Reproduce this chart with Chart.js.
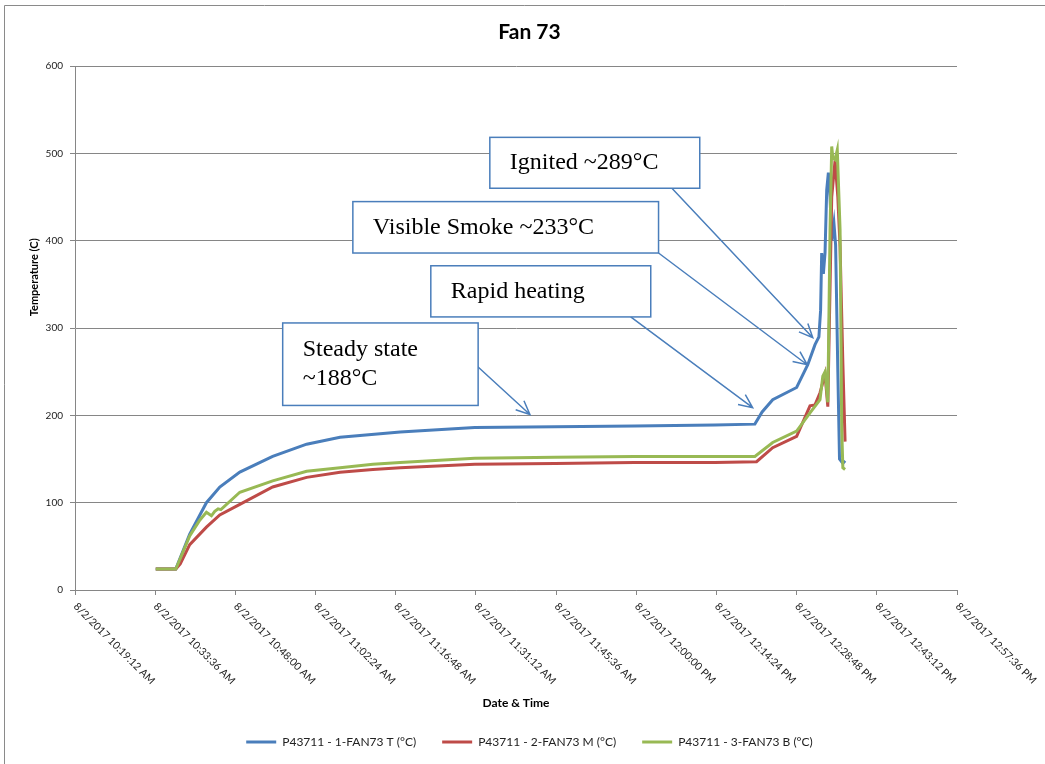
<!DOCTYPE html>
<html>
<head>
<meta charset="utf-8">
<title>Fan 73</title>
<script src="https://cdn.jsdelivr.net/npm/chart.js@4.4.1/dist/chart.umd.min.js"></script>
<style>
  html, body { margin: 0; padding: 0; background: #fff; }
  #wrap { width: 1045px; height: 764px; position: relative; }
</style>
</head>
<body>
<div id="wrap"><canvas id="fanChart"></canvas></div>
<script>
// x values are minutes after 8/2/2017 10:19:12 AM
const tickValues = [0, 14.4, 28.8, 43.2, 57.6, 72, 86.4, 100.8, 115.2, 129.6, 144, 158.4];
const tickLabels = [
    '8/2/2017 10:19:12 AM', '8/2/2017 10:33:36 AM', '8/2/2017 10:48:00 AM', '8/2/2017 11:02:24 AM',
    '8/2/2017 11:16:48 AM', '8/2/2017 11:31:12 AM', '8/2/2017 11:45:36 AM', '8/2/2017 12:00:00 PM',
    '8/2/2017 12:14:24 PM', '8/2/2017 12:28:48 PM', '8/2/2017 12:43:12 PM', '8/2/2017 12:57:36 PM'
];

const seriesNames = ['P43711 - 1-FAN73 T (°C)', 'P43711 - 2-FAN73 M (°C)', 'P43711 - 3-FAN73 B (°C)'];
const seriesColors = ['#4a7ebb', '#be4b48', '#98b954'];

const topTime = [14.5, 18.1, 20.6, 23.6, 26.0, 29.6, 35.5, 41.6, 47.6, 58.4, 71.8, 86.2, 100.5, 114.9, 122.1,
    123.4, 125.3, 129.6, 131.6, 132.9, 133.6, 133.9, 134.1, 134.4, 134.7, 135.0, 135.3, 135.6, 135.9,
    136.3, 136.6, 137.0, 137.3, 137.9, 138.3];
const topTemp = [24, 24, 64, 100, 118, 135, 153, 167, 175, 181, 186, 187, 188, 189, 190,
    204, 218, 232, 258, 281, 290, 320, 386, 362, 386, 458, 478, 450, 400,
    420, 395, 250, 150, 145, 148];

const midTime = [14.5, 18.1, 18.9, 20.6, 23.6, 26.0, 29.6, 35.5, 41.6, 47.6, 53.5, 58.4, 71.8, 86.2, 100.5,
    114.9, 122.4, 125.3, 129.6, 132.0, 132.9, 133.8, 134.7, 135.2, 135.9, 136.5, 137.0, 137.4, 137.9, 138.3];
const midTemp = [24, 24, 30, 52, 72, 86, 98, 118, 129, 135, 138, 140, 144, 145, 146,
    146, 147, 163, 176, 211, 212, 226, 247, 210, 450, 492, 450, 393, 260, 170];

const botTime = [14.5, 18.1, 20.6, 22.4, 23.6, 24.5, 25.1, 25.7, 26.2, 29.6, 35.5, 41.6, 47.6, 53.5, 58.4,
    71.8, 86.2, 100.5, 114.9, 122.1, 125.3, 129.6, 132.0, 133.8, 134.3, 134.7, 135.2, 135.6, 135.9,
    136.1, 136.5, 136.9, 137.4, 137.7, 137.9, 138.3];
const botTemp = [24, 24, 62, 80, 89, 85, 90, 93, 92, 112, 125, 136, 140, 144, 146,
    151, 152, 153, 153, 153, 169, 182, 203, 218, 245, 250, 215, 413, 508,
    495, 493, 504, 413, 184, 140, 138];

// callouts: box corners and arrow tail/tip in data units (minutes, °C)
const callouts = [
    { lines: ['Ignited ~289°C'], box: [74.5, 518.5, 112.2, 460.2], tail: [107.2, 460.2], tip: [132.5, 289] },
    { lines: ['Visible Smoke ~233°C'], box: [49.9, 444.9, 104.8, 386], tail: [104.8, 386], tip: [131.5, 258] },
    { lines: ['Rapid heating'], box: [63.9, 371.4, 103.4, 312.8], tail: [99.8, 312.8], tip: [121.7, 208.8] },
    { lines: ['Steady state', '~188°C'], box: [37.3, 305.9, 72.4, 211.4], tail: [72.1, 257.1], tip: [81.7, 201] }
];

function toPoints(times, temps) {
    return times.map((t, i) => ({ x: t, y: temps[i] }));
}

const sansFont = 'Lato, "Open Sans", sans-serif';
const gridGrey = '#868686';

const fanExtras = {
    id: 'fanExtras',
    beforeDraw(chart) {
        const c = chart.ctx;
        c.save();
        c.strokeStyle = '#8a8a8a';
        c.lineWidth = 1;
        c.beginPath();
        c.moveTo(4.5, 764);
        c.lineTo(4.5, 5.5);
        c.lineTo(1045, 5.5);
        c.stroke();
        c.restore();
    },
    afterDraw(chart) {
        const c = chart.ctx;
        const xs = chart.scales.x;
        const area = chart.chartArea;

        // rotated date labels, reading down to the right from each tick
        c.save();
        c.fillStyle = '#222';
        c.font = '10.5px ' + sansFont;
        c.textAlign = 'left';
        c.textBaseline = 'top';
        tickValues.forEach((v, i) => {
            const px = xs.getPixelForValue(v);
            c.save();
            c.translate(px + 4, area.bottom + 11);
            c.rotate(Math.PI / 4);
            c.fillText(tickLabels[i], 0, 0);
            c.restore();
        });
        c.restore();

        // y axis title
        c.save();
        c.fillStyle = '#000';
        c.font = 'bold 11px ' + sansFont;
        c.textAlign = 'center';
        c.textBaseline = 'middle';
        c.translate(34, area.top + (area.bottom - area.top) * 0.403);
        c.rotate(-Math.PI / 2);
        c.fillText('Temperature (C)', 0, 0);
        c.restore();
    },
    afterDatasetsDraw(chart) {
        const c = chart.ctx;
        const xs = chart.scales.x;
        const ys = chart.scales.y;
        c.save();
        callouts.forEach(co => {
            const x0 = xs.getPixelForValue(co.box[0]);
            const y0 = ys.getPixelForValue(co.box[1]);
            const x1 = xs.getPixelForValue(co.box[2]);
            const y1 = ys.getPixelForValue(co.box[3]);
            const tx = xs.getPixelForValue(co.tail[0]);
            const ty = ys.getPixelForValue(co.tail[1]);
            const hx = xs.getPixelForValue(co.tip[0]);
            const hy = ys.getPixelForValue(co.tip[1]);

            c.strokeStyle = '#4a7ebb';
            c.lineWidth = 1.5;
            c.beginPath();
            c.moveTo(tx, ty);
            c.lineTo(hx, hy);
            const ang = Math.atan2(hy - ty, hx - tx);
            const len = 15, spread = 0.42;
            c.moveTo(hx - len * Math.cos(ang - spread), hy - len * Math.sin(ang - spread));
            c.lineTo(hx, hy);
            c.lineTo(hx - len * Math.cos(ang + spread), hy - len * Math.sin(ang + spread));
            c.stroke();

            c.fillStyle = '#fff';
            c.fillRect(x0, y0, x1 - x0, y1 - y0);
            c.strokeRect(x0, y0, x1 - x0, y1 - y0);

            c.fillStyle = '#000';
            c.font = '24px "Liberation Serif", "Times New Roman", serif';
            c.textAlign = 'left';
            c.textBaseline = 'middle';
            const mid = (y0 + y1) / 2;
            const step = 29;
            co.lines.forEach((ln, i) => {
                c.fillText(ln, x0 + 20, mid + (i - (co.lines.length - 1) / 2) * step);
            });
        });
        c.restore();
    }
};

const ctx = document.getElementById('fanChart').getContext('2d');
const fanChart = new Chart(ctx, {
    type: 'line',
    data: {
        datasets: [
            { label: seriesNames[0], data: toPoints(topTime, topTemp), borderColor: seriesColors[0], backgroundColor: seriesColors[0], order: 3 },
            { label: seriesNames[1], data: toPoints(midTime, midTemp), borderColor: seriesColors[1], backgroundColor: seriesColors[1], order: 2 },
            { label: seriesNames[2], data: toPoints(botTime, botTemp), borderColor: seriesColors[2], backgroundColor: seriesColors[2], order: 1 }
        ]
    },
    options: {
        responsive: true,
        maintainAspectRatio: false,
        animation: false,
        elements: {
            line: { borderWidth: 3, tension: 0, fill: false },
            point: { radius: 0, hoverRadius: 0, pointStyle: 'line', borderWidth: 3 }
        },
        layout: { padding: { left: 14, right: 0, top: 0, bottom: 6 } },
        scales: {
            x: {
                type: 'linear',
                min: 0,
                max: 158.4,
                afterBuildTicks: scale => { scale.ticks = tickValues.map(v => ({ value: v })); },
                afterFit: scale => { scale.height = 120; },
                ticks: { display: false },
                grid: { drawOnChartArea: false, drawTicks: true, tickLength: 5, color: gridGrey },
                border: { color: gridGrey },
                title: {
                    display: true,
                    text: 'Date & Time',
                    color: '#000',
                    font: { family: sansFont, size: 12, weight: 'bold' },
                    padding: { top: 0, bottom: 0 }
                }
            },
            y: {
                min: 0,
                max: 600,
                afterFit: scale => { scale.width = 61; },
                ticks: { stepSize: 100, color: '#222', font: { family: sansFont, size: 10 }, padding: 7 },
                grid: { color: gridGrey, tickLength: 5 },
                border: { color: gridGrey }
            },
            // empty right-hand margin so the title and legend centre on the whole frame
            spacer: {
                type: 'linear',
                position: 'right',
                afterFit: scale => { scale.width = 88; },
                ticks: { display: false },
                grid: { display: false },
                border: { display: false }
            }
        },
        plugins: {
            title: {
                display: true,
                text: 'Fan 73',
                color: '#000',
                font: { family: sansFont, size: 21, weight: 'bold' },
                padding: { top: 20, bottom: 21 }
            },
            legend: {
                position: 'bottom',
                labels: {
                    usePointStyle: true,
                    pointStyleWidth: 30,
                    padding: 26,
                    color: '#222',
                    font: { family: sansFont, size: 12 },
                    sort: (a, b) => a.datasetIndex - b.datasetIndex
                }
            },
            tooltip: { enabled: false }
        }
    },
    plugins: [fanExtras]
});
</script>
</body>
</html>
